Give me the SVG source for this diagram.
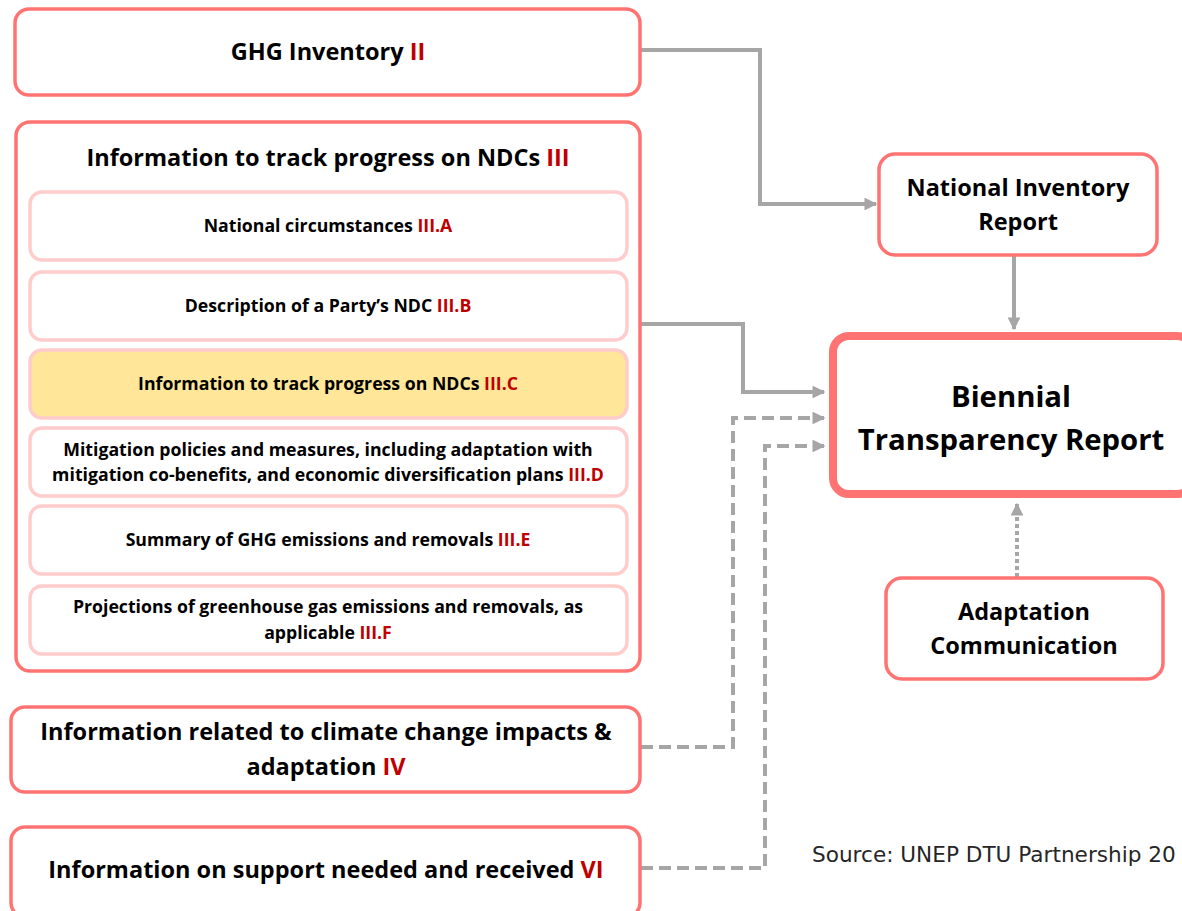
<svg xmlns="http://www.w3.org/2000/svg" width="1182" height="911" viewBox="0 0 1182 911">
  <style>
    .box { fill: #ffffff; stroke: #ff7373; stroke-width: 3.5; }
    .sub { fill: #ffffff; stroke: #ffcccc; stroke-width: 3.5; }
    .hl { fill: #ffe699; stroke: #ffcccc; stroke-width: 3.5; }
    .btr { fill: #ffffff; stroke: #ff7373; stroke-width: 8; }
    .t { font-family: "Open Sans", "Liberation Sans", sans-serif; font-weight: bold; fill: #000000; text-anchor: middle; }
    .s { font-size: 17.7px; }
    .m { font-size: 23.5px; }
    .num { fill: #c00000; }
    .wire { fill: none; stroke: #a6a6a6; stroke-width: 4; }
    .dash { stroke-dasharray: 12 6; }
    .dot { stroke-dasharray: 4 3; }
    .src { font-family: "DejaVu Sans", "Liberation Sans", sans-serif; font-size: 21.6px; fill: #262626; }
  </style>
  <defs>
    <marker id="arr" viewBox="0 0 10 10" refX="9" refY="5" markerWidth="3.2" markerHeight="3.2" orient="auto" markerUnits="strokeWidth">
      <path d="M0,0 L10,5 L0,10 z" fill="#a6a6a6"/>
    </marker>
  </defs>

  <!-- connectors -->
  <g id="connectors">
    <path class="wire" d="M641,50 H760 V204 H876" marker-end="url(#arr)"/>
    <path class="wire" d="M1014,256 V329" marker-end="url(#arr)"/>
    <path class="wire" d="M641,324 H743 V392 H824" marker-end="url(#arr)"/>
    <path class="wire dash" d="M641,747 H733 V418 H824" marker-end="url(#arr)"/>
    <path class="wire dash" d="M641,868 H765 V446 H824" marker-end="url(#arr)"/>
    <path class="wire dot" d="M1017,577 V504" marker-end="url(#arr)"/>
  </g>

  <g id="ghg-inventory">
    <rect class="box" x="15" y="9" width="625" height="86" rx="14"/>
    <text class="t m" x="328" y="60">GHG Inventory <tspan class="num">II</tspan></text>
  </g>

  <g id="ndc-progress">
    <rect class="box" x="16" y="122" width="624" height="549" rx="14"/>
    <text class="t m" x="328" y="166">Information to track progress on NDCs <tspan class="num">III</tspan></text>
  </g>

  <g id="iii-a">
    <rect class="sub" x="30" y="192" width="597" height="68" rx="12"/>
    <text class="t s" x="328" y="232">National circumstances <tspan class="num">III.A</tspan></text>
  </g>

  <g id="iii-b">
    <rect class="sub" x="30" y="272" width="597" height="68" rx="12"/>
    <text class="t s" x="328" y="312">Description of a Party’s NDC <tspan class="num">III.B</tspan></text>
  </g>

  <g id="iii-c">
    <rect class="hl" x="30" y="350" width="597" height="68" rx="12"/>
    <text class="t s" x="328" y="390">Information to track progress on NDCs <tspan class="num">III.C</tspan></text>
  </g>

  <g id="iii-d">
    <rect class="sub" x="30" y="428" width="597" height="68" rx="12"/>
    <text class="t s" x="328" y="456">Mitigation policies and measures, including adaptation with</text>
    <text class="t s" x="328" y="481">mitigation co-benefits, and economic diversification plans <tspan class="num">III.D</tspan></text>
  </g>

  <g id="iii-e">
    <rect class="sub" x="30" y="506" width="597" height="68" rx="12"/>
    <text class="t s" x="328" y="546">Summary of GHG emissions and removals <tspan class="num">III.E</tspan></text>
  </g>

  <g id="iii-f">
    <rect class="sub" x="30" y="586" width="597" height="68" rx="12"/>
    <text class="t s" x="328" y="613">Projections of greenhouse gas emissions and removals, as</text>
    <text class="t s" x="328" y="639">applicable <tspan class="num">III.F</tspan></text>
  </g>

  <g id="impacts-adaptation">
    <rect class="box" x="11" y="707" width="629" height="85" rx="14"/>
    <text class="t m" x="326" y="740">Information related to climate change impacts &amp;</text>
    <text class="t m" x="326" y="775">adaptation <tspan class="num">IV</tspan></text>
  </g>

  <g id="support">
    <rect class="box" x="11" y="827" width="629" height="90" rx="14"/>
    <text class="t m" x="326" y="878">Information on support needed and received <tspan class="num">VI</tspan></text>
  </g>

  <g id="nir">
    <rect class="box" x="879" y="154" width="278" height="101" rx="16"/>
    <text class="t m" x="1018" y="196">National Inventory</text>
    <text class="t m" x="1018" y="230">Report</text>
  </g>

  <g id="btr">
    <rect class="btr" x="833" y="336" width="360" height="158" rx="16"/>
    <text class="t" x="1011" y="407" font-size="29.3">Biennial</text>
    <text class="t" x="1011" y="450" font-size="29.3">Transparency Report</text>
  </g>

  <g id="adaptation-communication">
    <rect class="box" x="886" y="578" width="277" height="101" rx="16"/>
    <text class="t m" x="1024" y="620">Adaptation</text>
    <text class="t m" x="1024" y="654">Communication</text>
  </g>

  <text class="src" x="812" y="862">Source: UNEP DTU Partnership 20</text>
</svg>
